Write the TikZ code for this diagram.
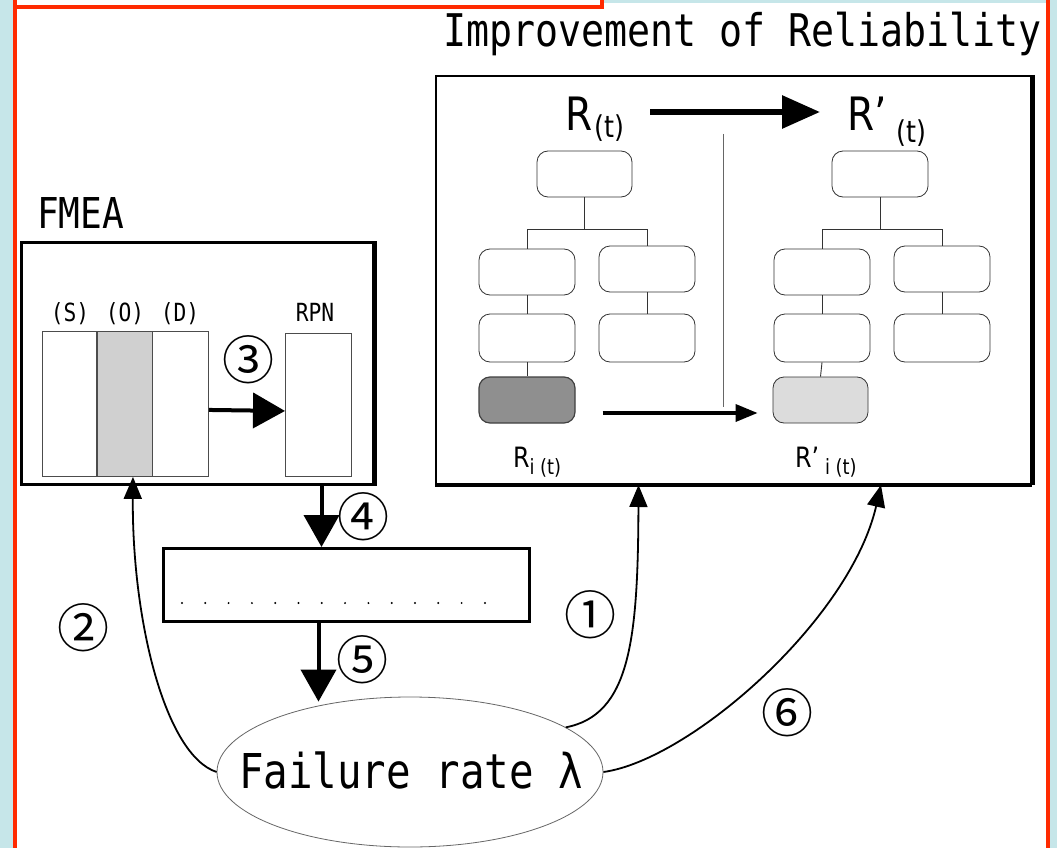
\documentclass[tikz,border=0pt]{standalone}
\usepackage{fontspec}
\newfontfamily\gothic[FakeStretch=0.85]{DejaVu Sans Mono}
\newfontfamily\dvsc[FakeStretch=0.85]{DejaVu Sans}
\newfontfamily\cjk{Noto Sans CJK JP}
\usetikzlibrary{arrows.meta,shapes.geometric,calc}
\definecolor{bgcyan}{HTML}{C6E6E9}
\definecolor{frred}{HTML}{FF2A00}
\definecolor{colgray}{HTML}{D0D0D0}
\definecolor{darkbox}{HTML}{8F8F8F}
\definecolor{lightbox}{HTML}{DCDCDC}
\tikzset{
  txt/.style={inner sep=0pt, outer sep=0pt},
  col/.style={draw=black!70, line width=0.9, inner sep=0pt, anchor=north west},
  tbox/.style={draw=black!80, line width=0.8, rounded corners=11, minimum width=96, minimum height=46, inner sep=0pt},
  tline/.style={draw=black!80, line width=0.9},
  num/.style={inner sep=0pt, font=\cjk\fontsize{52}{56}\selectfont},
  thickarrow/.style={line width=4, -{Triangle[length=32,width=35]}},
  curvearrow/.style={line width=1.8, -{Triangle[length=22,width=18]}},
}
\begin{document}
\begin{tikzpicture}[x=1pt,y=-1pt]
\useasboundingbox (0,0) rectangle (1057,848);
\fill[bgcyan] (0,0) rectangle (1057,848);
\fill[white] (17,3) rectangle (1048,848);
\fill[white] (17,0) rectangle (602,7);
\draw[frred, line width=4] (15,0) -- (15,848);
\draw[frred, line width=4] (1048,0) -- (1048,848);
\draw[frred, line width=4] (13,7) -- (604,7);
\draw[frred, line width=4] (602,0) -- (602,9);

% titles
\node[txt, anchor=base west, font=\gothic\fontsize{45}{50}\selectfont] (title) at (443,47) {Improvement of Reliability};
\node[txt, anchor=base west, font=\gothic\fontsize{42.5}{46}\selectfont] (fmeatitle) at (37,228) {FMEA};

% FMEA box
\node[draw, line width=3, minimum width=352, minimum height=242, inner sep=0pt, anchor=north west] (fmea) at (20,241) {};
\draw[line width=4.5] (fmea.north east) -- (fmea.south east);
\node[col, minimum width=54, minimum height=145] (S) at (42,331) {};
\node[col, fill=colgray, minimum width=55, minimum height=145] (O) at (97,331) {};
\node[col, minimum width=56, minimum height=145] (D) at (152,331) {};
\node[col, minimum width=66, minimum height=143] (RPN) at (285,333) {};
\node[txt, anchor=base, font=\gothic\fontsize{25}{27}\selectfont] (Sl) at (70,321) {(S)};
\node[txt, anchor=base, font=\gothic\fontsize{25}{27}\selectfont] (Ol) at (125,321) {(O)};
\node[txt, anchor=base, font=\gothic\fontsize{25}{27}\selectfont] (Dl) at (180,321) {(D)};
\node[txt, anchor=base, font=\gothic\fontsize{25}{27}\selectfont] (RPNl) at (315,321) {RPN};
\draw[thickarrow] ([yshift=-6]D.east) -- ([yshift=-6]RPN.west);
\node[num] (n3) at (248,360) {③};

% middle box
\node[draw, line width=3, minimum width=366, minimum height=73, inner sep=0pt, anchor=north west] (mid) at (162,547) {};
\foreach \k in {0,...,13} \fill (182+\k*23.3,603) circle (1.1);
\draw[thickarrow] ([xshift=124]fmea.south) -- ([xshift=-25]mid.north);
\node[num] (n4) at (363,517) {④};

% ellipse
\node[ellipse, draw=black!60, line width=0.8, minimum width=386, minimum height=150, inner sep=0pt] (ell) at (410,772) {};
\node[txt, anchor=base, font=\gothic\fontsize{48}{52}\selectfont] (fr) at (411,788) {Failure rate λ};
\draw[thickarrow, shorten >=-5] ([xshift=-28]mid.south) -- ([xshift=-28]mid.south |- ell.north);
\node[num] (n5) at (362,660) {⑤};

% reliability box
\node[draw, line width=2, minimum width=595, minimum height=408, inner sep=0pt, anchor=north west] (rel) at (435,75) {};
\draw[line width=5] (rel.north east) -- (rel.south east);
\draw[line width=3] (rel.south west) -- (rel.south east);

% labels R
\node[txt, anchor=base west, font=\dvsc\fontsize{46}{50}\selectfont] (Rt) at (565,131) {R\hspace{2pt}\raisebox{-7pt}{\fontsize{30}{32}\selectfont (t)}};
\node[txt, anchor=base west, font=\dvsc\fontsize{46}{50}\selectfont] (Rpt) at (847,131) {R’\hspace{10pt}\raisebox{-12pt}{\fontsize{30}{32}\selectfont (t)}};
\draw[line width=6, -{Triangle[length=38,width=32]}, shorten <=26] (Rt.east |- 0,112) -- (820,112) coordinate (bigtip);

% left tree
\node[tbox, minimum width=95] (L0) at (584.5,174) {};
\node[tbox] (L1a) at (527,272) {};
\node[tbox] (L1b) at (647,269) {};
\node[tbox, minimum height=48] (L2a) at (527,338) {};
\node[tbox, minimum height=48] (L2b) at (647,338) {};
\node[tbox, fill=darkbox, draw=black!75, line width=1.2] (L3) at (527,400) {};
\draw[tline] (L0.south) -- ++(0,32) coordinate (lbar);
\draw[tline] (L1a.north) -- (L1a.north |- lbar) -- (L1b.north |- lbar) -- (L1b.north);
\draw[tline] (L1a.south) -- (L2a.north);
\draw[tline] (L2a.south) -- (L3.north);
\draw[tline] (L1b.south) -- (L2b.north);
\node[txt, anchor=base west, font=\dvsc\fontsize{28}{30}\selectfont] (Ri) at (513,467) {R\raisebox{-7pt}{\fontsize{21}{23}\selectfont i (t)}};

% right tree
\node[tbox] (R0) at (880,174) {};
\node[tbox] (R1a) at (822,272) {};
\node[tbox] (R1b) at (942,269) {};
\node[tbox, minimum height=48] (R2a) at (822,338) {};
\node[tbox, minimum height=48] (R2b) at (942,338) {};
\node[tbox, fill=lightbox, minimum width=95] (R3) at (820.5,400) {};
\draw[tline] (R0.south) -- ++(0,32) coordinate (rbar);
\draw[tline] (R1a.north) -- (R1a.north |- rbar) -- (R1b.north |- rbar) -- (R1b.north);
\draw[tline] (R1a.south) -- (R2a.north);
\draw[tline] (R2a.south) -- (R3.north);
\draw[tline] (R1b.south) -- (R2b.north);
\node[txt, anchor=base west, font=\dvsc\fontsize{28}{30}\selectfont] (Rpi) at (795,467) {R’\hspace{6pt}\raisebox{-7pt}{\fontsize{21}{23}\selectfont i (t)}};

\draw[black!60, line width=1] (723,134) -- (723,407);
\draw[line width=3.5, -{Triangle[length=22,width=17]}, shorten <=27, shorten >=15] ([yshift=-13]L3.east) -- ([yshift=-13]R3.west);

% curves
\draw[curvearrow] (ell.west) .. controls (165,755) and (132,620) .. ([xshift=8]O.south);
\node[num] (n2) at (83,628) {②};
\draw[curvearrow] (ell.16) .. controls (630,715) and (638,640) .. ([xshift=-95]rel.south);
\node[num] (n1) at (590,615) {①};
\draw[curvearrow] (ell.east) .. controls (690,760) and (850,620) .. ([xshift=147.5]rel.south);
\node[num] (n6) at (787,713) {⑥};
\end{tikzpicture}
\end{document}
